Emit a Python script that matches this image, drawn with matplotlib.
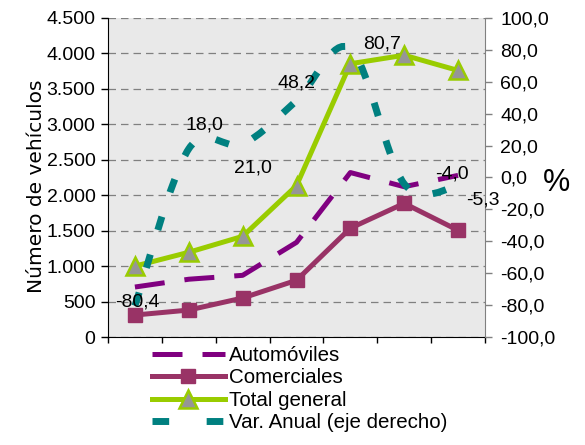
"""Number of vehicles per year (left axis) and annual change (right axis)"""
import matplotlib.pyplot as plt
import numpy as np
from matplotlib.lines import Line2D
from matplotlib.patches import PathPatch
from matplotlib.path import Path
from matplotlib.ticker import FuncFormatter

# seven periods, the x axis shows no labels
periodos = ["", "", "", "", "", "", ""]
automoviles = [705, 815, 870, 1335, 2320, 2120, 2280]
comerciales = [310, 380, 550, 800, 1535, 1885, 1505]
total_general = [1000, 1195, 1420, 2135, 3855, 3975, 3760]
var_anual = [-80.4, 18.0, 21.0, 48.2, 80.7, -4.0, -5.3]
etiquetas_var = ["-80,4", "18,0", "21,0", "48,2", "80,7", "-4,0", "-5,3"]

plt.rcParams["font.family"] = ["Liberation Sans", "DejaVu Sans"]
FS = 14


def smooth_path(xs, ys):
    """Bezier path through the points, like a smoothed Excel line"""
    pts = np.column_stack([xs, ys]).astype(float)
    n = len(pts)
    verts = [pts[0]]
    codes = [Path.MOVETO]
    for i in range(n - 1):
        prev = pts[i - 1] if i > 0 else pts[i]
        nxt = pts[i + 2] if i + 2 < n else pts[i + 1]
        c1 = pts[i] + (pts[i + 1] - prev) / 6.0
        c2 = pts[i + 1] - (nxt - pts[i]) / 6.0
        verts += [c1, c2, pts[i + 1]]
        codes += [Path.CURVE4] * 3
    return Path(verts, codes)


def main():
    """draw the chart and save it"""
    fig = plt.figure(figsize=(5.85, 4.45), dpi=100)
    ax = fig.add_axes([108 / 585, 1 - 337 / 445, 377 / 585, 319 / 445])
    ax2 = ax.twinx()
    x = np.arange(len(periodos))

    ax.set_facecolor("#e9e9e9")
    ax.set_xlim(-0.5, len(periodos) - 0.5)
    ax.set_ylim(0, 4500)
    ax.set_yticks(np.arange(0, 4501, 500))
    ax.yaxis.set_major_formatter(
        FuncFormatter(lambda v, p: f"{v:,.0f}".replace(",", "."))
    )
    ax.set_xticks(np.arange(-0.5, len(periodos), 1))
    ax.set_xticklabels([])
    ax.tick_params(axis="x", length=4, width=1, direction="out")
    ax.tick_params(axis="y", length=5, width=1, direction="out",
                   labelsize=FS, pad=4)
    ax.grid(axis="y", color="#808080", linestyle=(0, (6, 4)), linewidth=0.9)
    ax.set_axisbelow(True)
    for s in ["top", "right"]:
        ax.spines[s].set_visible(False)
    ax.spines["left"].set_color("black")
    ax.spines["bottom"].set_color("black")

    l_auto, = ax.plot(x, automoviles, color="#800080", linewidth=3.6,
                      linestyle=(0, (6, 4)), dash_capstyle="butt",
                      label="Automóviles")
    l_com, = ax.plot(x, comerciales, color="#993366", linewidth=3.6,
                     marker="s", markersize=10, label="Comerciales")
    l_tot, = ax.plot(x, total_general, color="#99cc00", linewidth=3.6,
                     marker="^", markersize=12.5, markerfacecolor="#969696",
                     markeredgecolor="#99cc00", markeredgewidth=1.8,
                     label="Total general")

    ax2.set_ylim(-100, 100)
    ax2.set_yticks(np.arange(-100, 101, 20))
    ax2.yaxis.set_major_formatter(
        FuncFormatter(lambda v, p: f"{v:.1f}".replace(".", ","))
    )
    ax2.tick_params(axis="y", length=5, width=1, direction="out",
                    labelsize=FS, pad=6, color="#808080")
    for s in ["top", "left", "bottom"]:
        ax2.spines[s].set_visible(False)
    ax2.spines["right"].set_color("#808080")

    teal = PathPatch(smooth_path(x, var_anual), fill=False,
                     edgecolor="#008080", linewidth=5,
                     linestyle=(0, (2.0, 3.7)), capstyle="butt")
    ax2.add_patch(teal)

    offsets = [(2, -4), (16, -24), (10, 24), (0, -18),
               (32, -5), (48, -10), (25, 14)]
    for xi, yi, txt, (dx, dy) in zip(x, var_anual, etiquetas_var, offsets):
        ax2.annotate(txt, (xi, yi), xytext=(dx * 0.72, -dy * 0.72),
                     textcoords="offset points", ha="center", va="center",
                     fontsize=FS)

    fig.text(37 / 585, 1 - 186 / 445, "Número de vehículos", rotation=90,
             ha="center", va="center", fontsize=14.5, family="DejaVu Sans")
    fig.text(556 / 585, 1 - 183 / 445, "%", ha="center", va="center",
             fontsize=22)

    l_var = Line2D([], [], color="#008080", linewidth=5,
                   linestyle=(0, (2.4, 5.4)), dash_capstyle="butt")
    fig.legend([l_auto, l_com, l_tot, l_var],
               ["Automóviles", "Comerciales", "Total general",
                "Var. Anual (eje derecho)"],
               loc="upper left", bbox_to_anchor=(152 / 585, 1 - 346 / 445),
               frameon=False, fontsize=14.8, handlelength=3.55,
               handletextpad=0.2, labelspacing=0.17, borderpad=0,
               borderaxespad=0)

    fig.savefig("out.png", dpi=100)


if __name__ == "__main__":
    main()
